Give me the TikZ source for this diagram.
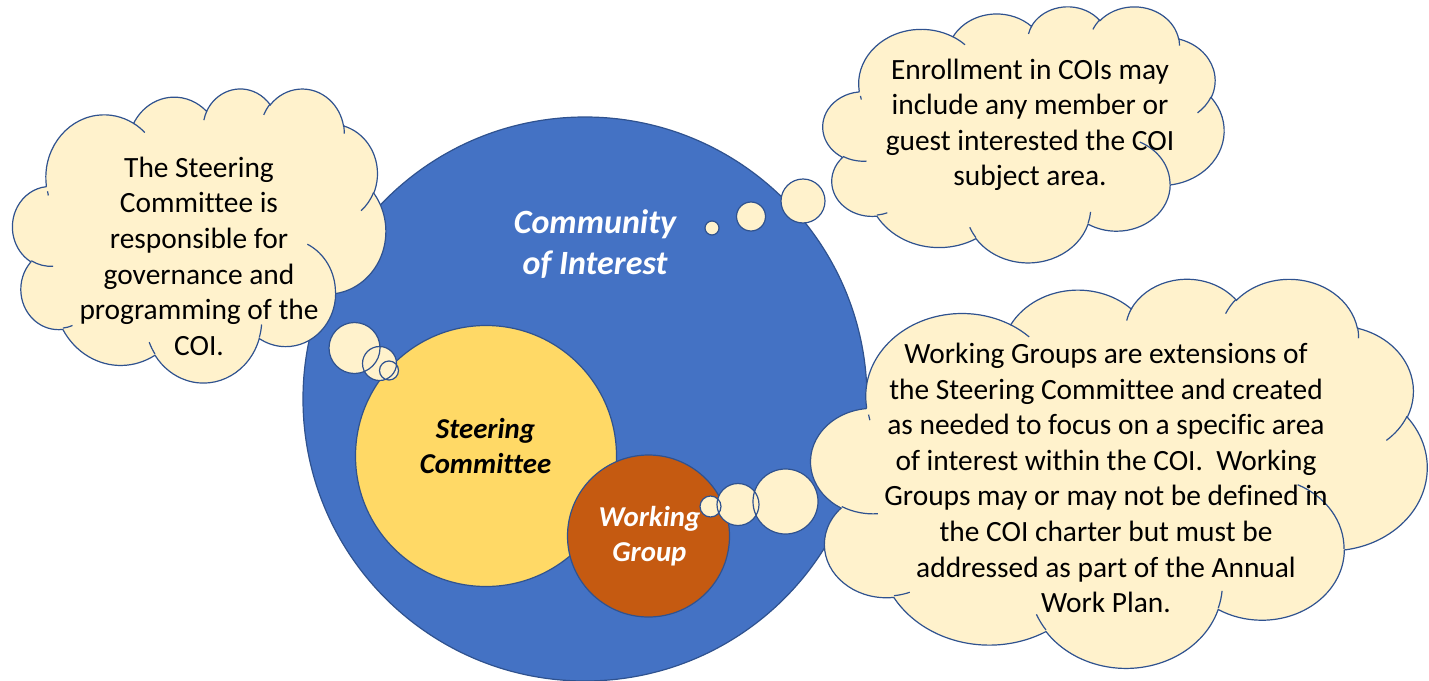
\documentclass[tikz,border=0pt]{standalone}
\usepackage{fontspec}
\setmainfont{Carlito}[Ligatures=NoCommon]
\usepackage{tikz}

\definecolor{coiblue}{HTML}{4472C4}
\definecolor{edgeblue}{HTML}{2F528F}
\definecolor{scyellow}{HTML}{FFD966}
\definecolor{wgorange}{HTML}{C55A11}
\definecolor{notecream}{HTML}{FFF2CC}

% one bump of the cloud outline: x radius, y radius, start angle, sweep
% (angles are measured on the ellipse as seen, turned into arc parameters here)
\newcommand{\puff}[4]{arc[x radius=#1, y radius=#2,
  start angle={atan2(#1*sin(#3),#2*cos(#3))},
  delta angle={mod(atan2(#1*sin(#3+#4),#2*cos(#3+#4))-atan2(#1*sin(#3),#2*cos(#3))+720,360)}]}

% cloud in a 432 x 432 box, y pointing down
\newcommand{\cloudnote}{%
  \filldraw[notebody] (39.00,143.70) \puff{67.53}{91.90}{-190.48748}{123.78053}
    \puff{53.33}{72.67}{-144.10238}{89.94523} \puff{43.65}{59.45}{-145.80792}{99.72302}
    \puff{48.57}{65.95}{-130.98607}{117.24173} \puff{53.33}{72.73}{-78.70888}{109.02692}
    \puff{67.75}{92.20}{-46.26725}{130.26900} \puff{57.85}{78.67}{0.62502}{114.03333}
    \puff{67.52}{92.15}{22.45160}{115.17255} \puff{77.20}{105.43}{66.24263}{75.71102}
    \puff{43.60}{59.18}{-274.94208}{146.73557} \puff{43.45}{59.45}{-246.82850}{152.51885} -- cycle;
  % inner strokes where the bumps overlap
  \draw[noteline] (46.93,261.77) \puff{43.45}{59.45}{86.74200}{26.42950};
  \draw[noteline] (69.28,348.99) \puff{43.60}{59.18}{73.61047}{11.44747};
  \draw[noteline] (164.78,390.90) \puff{67.52}{92.15}{137.62415}{14.08110};
  \draw[noteline] (288.27,347.51) \puff{67.52}{92.15}{6.45327}{15.99835};
  \draw[noteline] (341.29,229.54) \puff{57.85}{78.67}{-70.29235}{70.91737};
  \draw[noteline] (417.98,153.54) \puff{53.33}{72.73}{30.31803}{27.75150};
  \draw[noteline] (383.24,54.26) \puff{48.57}{65.95}{-13.74433}{14.85890};
  \draw[noteline] (290.78,39.52) \puff{48.57}{65.95}{-149.18145}{18.19537};
  \draw[noteline] (221.41,47.20) \puff{43.65}{59.45}{-163.49427}{17.68635};
  \draw[noteline] (140.00,51.92) \puff{67.53}{91.90}{-66.70695}{12.31935};
  \draw[noteline] (41.27,157.89) \puff{67.53}{91.90}{162.04722}{5.17858};
}

\begin{document}
\begin{tikzpicture}[x=1pt,y=-1pt,
  notebody/.style={fill=notecream,draw=edgeblue,line width=1.2pt},
  noteline/.style={draw=edgeblue,line width=1.2pt},
  ring/.style={circle,draw=edgeblue,line width=1.2pt,inner sep=0pt},
  notetext/.style={align=center,inner sep=0pt,font=\fontsize{29.4}{35.6}\selectfont},
  ringtext/.style={align=center,inner sep=0pt,font=\fontsize{28.8}{35}\selectfont\bfseries\itshape}]
  \useasboundingbox (0,0) rectangle (1429,680);
  % community of interest with the steering committee and a working group
  \node[ring,fill=coiblue,minimum size=564] (coi) at (585,399) {};
  \node[ringtext,text=white,font=\fontsize{34}{41}\selectfont\bfseries\itshape] (coi-text) at (595,244.5) {Community\\of Interest};
  \node[ring,fill=scyellow,minimum size=261] (sc) at (486,456) {};
  \node[ringtext] (sc-text) at (485.5,446.3) {Steering\\Committee};
  \node[ring,fill=wgorange,minimum size=162] (wg) at (648.5,536) {};
  \node[ringtext,text=white] (wg-text) at (649.4,536.2) {Working\\Group};

  % note on the steering committee
  \begin{scope}[shift={(12.7,88)},x=0.86343pt,y=-0.68056pt]
    \cloudnote
  \end{scope}
  \node[notetext] (sc-note) at (199,256.2) {The Steering\\Committee is\\responsible for\\governance and\\programming of the\\COI.};
  \filldraw[notebody] (354.5,348) circle (25.5) (379.5,363.5) circle (17) (389,370.5) circle (9.5);

  % note on enrollment
  \begin{scope}[shift={(823,6)},x=0.92824pt,y=-0.59259pt]
    \cloudnote
  \end{scope}
  \node[notetext] (coi-note) at (1030,124.9) {Enrollment in COIs may\\include any member or\\guest interested the COI\\subject area.};
  \filldraw[notebody] (712,228) circle (7) (751,216.5) circle (14.5) (803,201) circle (22);

  % note on working groups
  \begin{scope}[shift={(811,278)},x=1.42593pt,y=-0.90046pt]
    \cloudnote
  \end{scope}
  \node[notetext] (wg-note) at (1106,478) {Working Groups are extensions of\\the Steering Committee and created\\as needed to focus on a specific area\\of interest within the COI.\ \ Working\\Groups may or may not be defined in\\the COI charter but must be\\addressed as part of the Annual\\Work Plan.};
  \filldraw[notebody] (710.5,506.5) circle (10.5) (738,504.5) circle (21) (785.5,501.5) circle (32.5);
\end{tikzpicture}
\end{document}
